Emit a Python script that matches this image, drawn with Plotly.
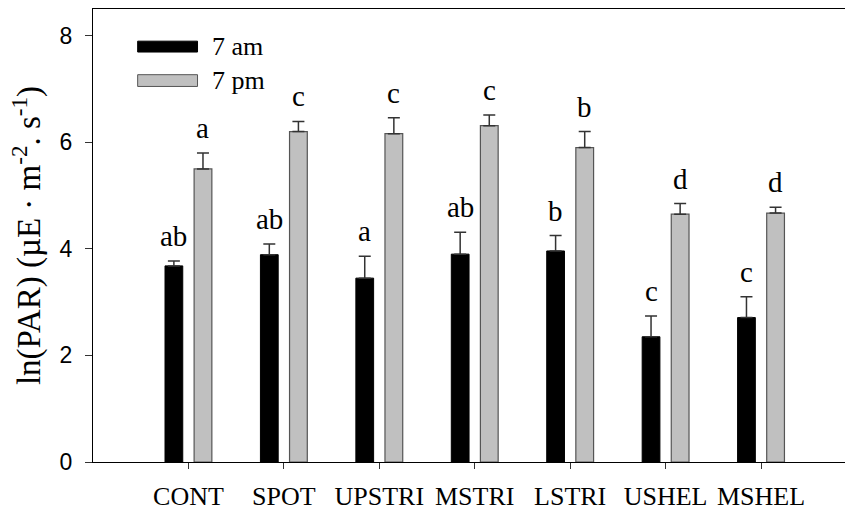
import plotly.graph_objects as go

categories = ["CONT", "SPOT", "UPSTRI", "MSTRI", "LSTRI", "USHEL", "MSHEL"]
am_values = [3.68, 3.89, 3.45, 3.90, 3.96, 2.35, 2.71]
am_errors = [0.09, 0.20, 0.41, 0.41, 0.29, 0.39, 0.39]
pm_values = [5.50, 6.20, 6.16, 6.31, 5.90, 4.65, 4.67]
pm_errors = [0.30, 0.19, 0.30, 0.20, 0.30, 0.20, 0.11]
am_letters = ["ab", "ab", "a", "ab", "b", "c", "c"]
pm_letters = ["a", "c", "c", "c", "b", "d", "d"]
y_ticks = [0, 2, 4, 6, 8]

SERIF = "Liberation Serif, Times New Roman, serif"
SANS = "Liberation Sans, Arial, sans-serif"
BARGAP = 0.39
GROUPGAP = 0.39

fig = go.Figure()
fig.add_trace(go.Bar(
    x=categories, y=am_values, name="7 am",
    marker=dict(color="black", line=dict(color="black", width=1)),
    error_y=dict(type="data", array=am_errors, symmetric=False, arrayminus=[0]*7,
                 color="#333333", thickness=1.5, width=6),
    showlegend=False,
))
fig.add_trace(go.Bar(
    x=categories, y=pm_values, name="7 pm",
    marker=dict(color="#c0c0c0", line=dict(color="#555555", width=1.2)),
    error_y=dict(type="data", array=pm_errors, symmetric=False, arrayminus=[0]*7,
                 color="#333333", thickness=1.5, width=6),
    showlegend=False,
))

offset = (1 - BARGAP) / 4
for i in range(len(categories)):
    fig.add_annotation(x=i - offset, y=am_values[i] + am_errors[i], text=am_letters[i],
                       showarrow=False, yanchor="bottom", yshift=7,
                       font=dict(family=SERIF, size=29, color="black"))
    fig.add_annotation(x=i + offset, y=pm_values[i] + pm_errors[i], text=pm_letters[i],
                       showarrow=False, yanchor="bottom", yshift=7,
                       font=dict(family=SERIF, size=29, color="black"))

# custom legend
legend_items = [("7 am", "black", "black", 0.929, 0.905), ("7 pm", "#c0c0c0", "#555555", 0.855, 0.829)]
for name, fill, line, y1, y0 in legend_items:
    fig.add_shape(type="rect", xref="paper", yref="paper", x0=0.0594, x1=0.139, y0=y0, y1=y1,
                  fillcolor=fill, line=dict(color=line, width=1))
    fig.add_annotation(xref="paper", yref="paper", x=0.156, y=(y0 + y1) / 2, text=name,
                       showarrow=False, xanchor="left", yanchor="middle",
                       font=dict(family=SERIF, size=26, color="black"))

fig.update_layout(
    width=846, height=512,
    margin=dict(l=93, r=1, t=9, b=50, autoexpand=False),
    paper_bgcolor="white", plot_bgcolor="white",
    barmode="group", bargap=BARGAP, bargroupgap=GROUPGAP,
    showlegend=False,
)
fig.update_xaxes(
    type="category", range=[-1, 6.88], automargin=False,
    showline=True, linecolor="black", linewidth=1.3, mirror=True,
    ticks="outside", ticklen=6, tickcolor="#333333", tickwidth=1,
    tickfont=dict(family=SERIF, size=26, color="black"),
    ticklabelstandoff=5,
    showgrid=False, zeroline=False,
)
fig.update_yaxes(
    range=[0, 8.5], tickvals=y_ticks, automargin=False,
    showline=True, linecolor="black", linewidth=1.3,
    ticks="outside", ticklen=7, tickcolor="#333333", tickwidth=1,
    tickfont=dict(family=SANS, size=23, color="black"),
    ticklabelstandoff=8,
    showgrid=False, zeroline=False,
    title=dict(text="ln(PAR) (µE · m<sup>-2</sup>. s<sup>-1</sup>)",
               font=dict(family=SERIF, size=33, color="black"), standoff=8),
)

fig.write_html("out.html", config={"displayModeBar": False},
               post_script="document.body.style.margin='0';")
